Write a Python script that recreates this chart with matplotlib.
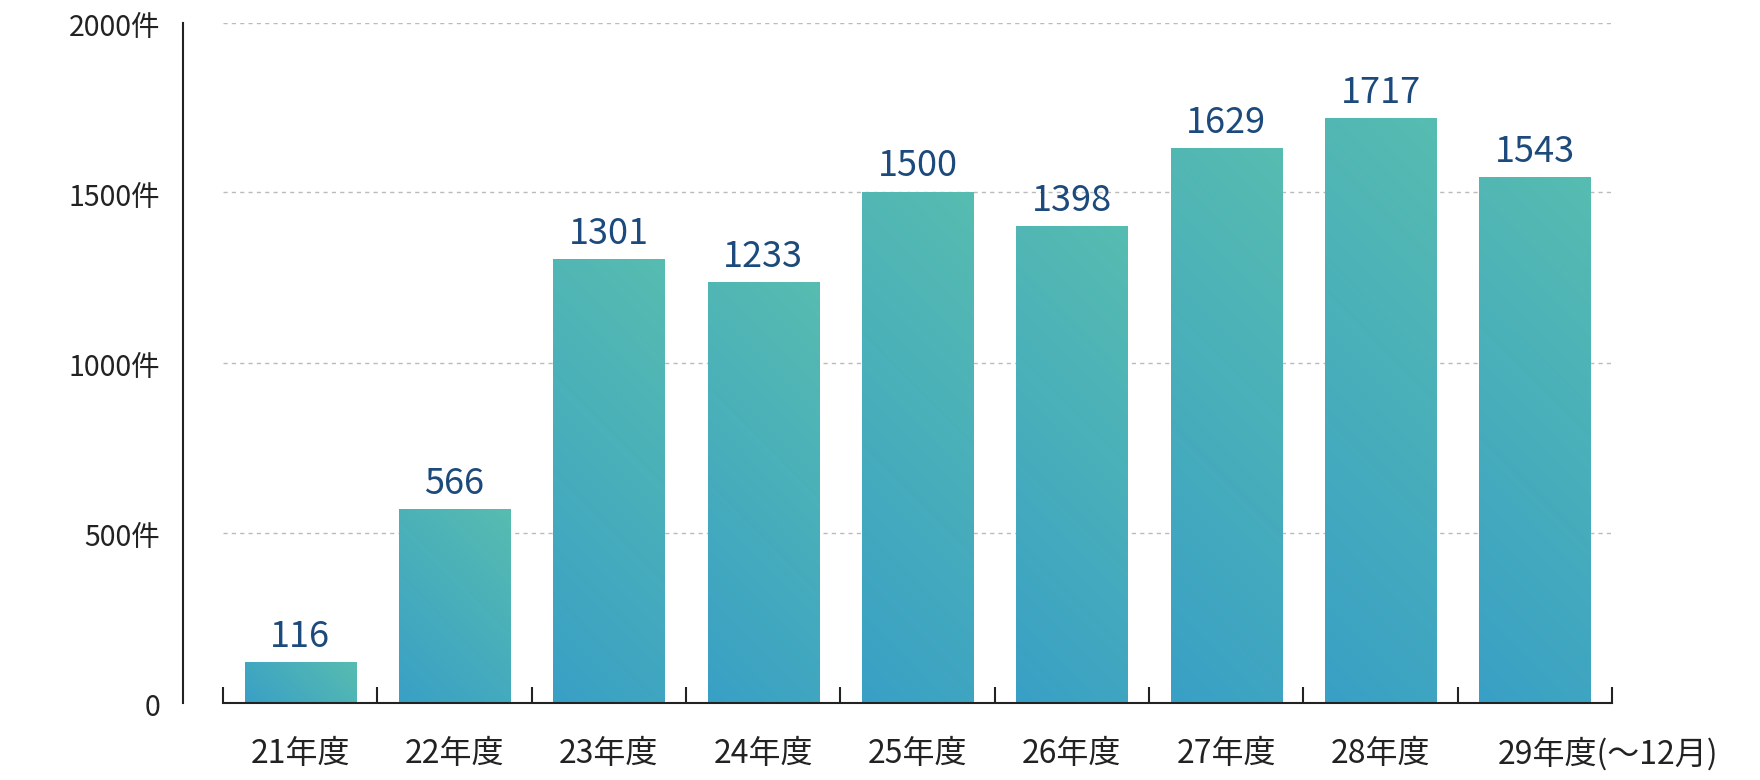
import numpy as np
import matplotlib
matplotlib.use('Agg')
import matplotlib.pyplot as plt
from matplotlib.colors import to_rgb

plt.rcParams['font.family'] = ['Noto Sans CJK JP', 'DejaVu Sans']

# データ
categories = ['21年度', '22年度', '23年度', '24年度', '25年度', '26年度', '27年度', '28年度', '29年度(～12月)']
counts = [116, 566, 1301, 1233, 1500, 1398, 1629, 1717, 1543]
yticks = [0, 500, 1000, 1500, 2000]
ytick_labels = ['0', '500件', '1000件', '1500件', '2000件']

PX = 0.72  # 1px -> pt (dpi=100)
c_bottom = np.array(to_rgb('#39a0c6'))
c_top = np.array(to_rgb('#57bcb0'))

fig = plt.figure(figsize=(17.6, 7.8), dpi=100)
ax = fig.add_axes([223 / 1760, (780 - 702.5) / 780, (1612 - 223) / 1760, 680 / 780])

x = np.arange(len(categories))
bars = ax.bar(x, counts, width=0.72, color='none', edgecolor='none', zorder=2)

ax.set_xlim(-0.5, len(categories) - 0.5)
ax.set_ylim(0, 2000)

# グラデーション (左下:青 → 右上:緑)
ax_w = 1389
ax_h = 680
for rect in bars:
    x0, y0 = rect.get_x(), rect.get_y()
    w, h = rect.get_width(), rect.get_height()
    w_px = w / len(categories) * ax_w
    h_px = h / 2000 * ax_h
    u = np.linspace(0, 1, 64)
    v = np.linspace(0, 1, 256)
    U, V = np.meshgrid(u, v)
    t = (U * w_px + V * h_px) / (w_px + h_px)
    img = c_bottom[None, None, :] + t[:, :, None] * (c_top - c_bottom)[None, None, :]
    ax.imshow(img, extent=[x0, x0 + w, y0, y0 + h], origin='lower',
              aspect='auto', interpolation='bilinear', zorder=2)

ax.set_xlim(-0.5, len(categories) - 0.5)
ax.set_ylim(0, 2000)

# 補助線
for v in yticks[1:]:
    ax.axhline(v, color='#bbbbbb', lw=1, linestyle=(0, (3, 3)), zorder=0)

# 軸
for s in ['top', 'right']:
    ax.spines[s].set_visible(False)
ax.spines['left'].set_position(('outward', 40 * PX))
ax.spines['left'].set_linewidth(1.5)
ax.spines['left'].set_color('#222222')
ax.spines['bottom'].set_linewidth(1.5)
ax.spines['bottom'].set_color('#222222')

ax.set_xticks(np.arange(-0.5, len(categories)))
ax.set_xticklabels([])
ax.tick_params(axis='x', direction='in', length=16 * PX, width=1.5, color='#222222')
ax.set_yticks([])

# 目盛りラベル
for v, lab in zip(yticks, ytick_labels):
    ax.annotate(lab, xy=(0, v), xycoords=('axes fraction', 'data'),
                xytext=(-63 * PX, -14 * PX), textcoords='offset points',
                ha='right', va='baseline', fontsize=20.5, color='#222222')

for i, lab in enumerate(categories):
    if i == len(categories) - 1:
        ax.annotate(lab, xy=(i - 0.24, 0), xycoords=('data', 'axes fraction'),
                    xytext=(0, -61 * PX), textcoords='offset points',
                    ha='left', va='baseline', fontsize=23, color='#222222')
    else:
        ax.annotate(lab, xy=(i, 0), xycoords=('data', 'axes fraction'),
                    xytext=(0, -61 * PX), textcoords='offset points',
                    ha='center', va='baseline', fontsize=23, color='#222222')

# 値ラベル
for i, c in enumerate(counts):
    ax.annotate(str(c), xy=(i, c), xytext=(0, 16 * PX), textcoords='offset points',
                ha='center', va='baseline', fontsize=26, color='#1d4a7c')

fig.savefig('out.png', dpi=100)
